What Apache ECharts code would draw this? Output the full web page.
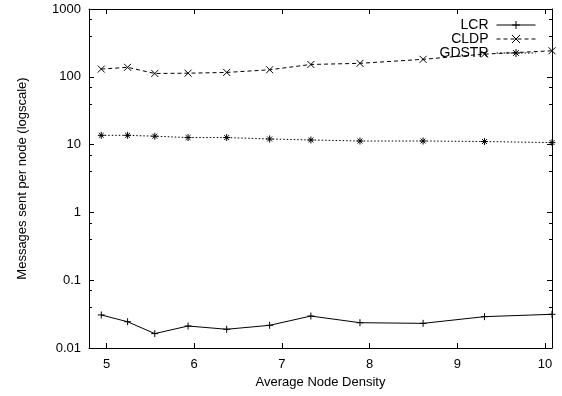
<!DOCTYPE html>
<html>
<head>
<meta charset="utf-8">
<script src="https://cdn.jsdelivr.net/npm/echarts@6/dist/echarts.min.js"></script>
<style>
  html, body { margin: 0; padding: 0; background: #fff; }
  #chart { width: 562px; height: 396px; }
</style>
</head>
<body>
<div id="chart"></div>
<script>
// x positions (average node density)
const density = [4.94, 5.24, 5.55, 5.93, 6.37, 6.86, 7.33, 7.89, 8.61, 9.31, 10.08];

// messages sent per node
const lcr   = [0.0307, 0.0244, 0.0163, 0.0211, 0.0189, 0.0216, 0.0296, 0.0236, 0.0231, 0.029, 0.0314];
const cldp  = [130, 138, 112, 113, 116, 127, 152, 158, 181, 216, 242];
const gdstr = [13.7, 13.7, 13.3, 12.7, 12.7, 12.1, 11.7, 11.3, 11.3, 11.1, 10.7];

const xTicks = [5, 6, 7, 8, 9, 10];
const yTicks = [0.01, 0.1, 1, 10, 100, 1000];

const FONT = '"Liberation Sans", Arial, sans-serif';

// stroke-only marker shapes like gnuplot
const plusSym = 'path://M0,5L10,5M5,0L5,10';
const crossSym = 'path://M1,1L9,9M9,1L1,9';
const starSym = 'path://M0,5L10,5M5,0L5,10M1.5,1.5L8.5,8.5M8.5,1.5L1.5,8.5';

const pairs = (ys) => density.map((x, i) => [x, ys[i]]);

const chart = echarts.init(document.getElementById('chart'));

const tickStyle = { show: true, inside: true, length: 5, lineStyle: { color: '#000', width: 1 } };

const mkSeries = (name, ys, symbol, type) => ({
  name: name,
  type: 'line',
  data: pairs(ys),
  symbol: symbol,
  symbolSize: 7,
  showSymbol: true,
  animation: false,
  lineStyle: { color: '#000', width: 1, type: type },
  itemStyle: { color: 'none', borderColor: '#000', borderWidth: 1 },
  emphasis: { disabled: true }
});

chart.setOption({
  animation: false,
  grid: { left: 89, right: 10, top: 9, bottom: 48 },
  legend: {
    orient: 'vertical',
    right: 21,
    top: 13,
    align: 'right',
    itemWidth: 39,
    itemHeight: 10,
    itemGap: 0,
    textStyle: { fontFamily: FONT, fontSize: 14, lineHeight: 14, color: '#000', padding: [0, 3, 0, 0] },
    lineStyle: { width: 1, color: '#000' },
    itemStyle: { color: 'none', borderColor: '#000', borderWidth: 1 },
    data: ['LCR', 'CLDP', 'GDSTR']
  },
  xAxis: [{
    type: 'value',
    min: 4.8,
    max: 10.08,
    name: 'Average Node Density',
    nameLocation: 'middle',
    nameGap: 28,
    nameTextStyle: { fontFamily: FONT, fontSize: 13, color: '#000' },
    axisLine: { show: true, onZero: false, lineStyle: { color: '#000', width: 1 } },
    axisTick: Object.assign({ customValues: xTicks }, tickStyle),
    axisLabel: { customValues: xTicks, margin: 10, fontFamily: FONT, fontSize: 13, color: '#000' },
    splitLine: { show: false }
  }, {
    type: 'value',
    position: 'top',
    min: 4.8,
    max: 10.08,
    axisLine: { show: true, onZero: false, lineStyle: { color: '#000', width: 1 } },
    axisTick: Object.assign({ customValues: xTicks }, tickStyle),
    axisLabel: { show: false },
    splitLine: { show: false }
  }],
  yAxis: [{
    type: 'log',
    logBase: 10,
    min: 0.01,
    max: 1000,
    name: 'Messages sent per node (logscale)',
    nameLocation: 'middle',
    nameGap: 60,
    nameTextStyle: { fontFamily: FONT, fontSize: 13, color: '#000' },
    axisLine: { show: true, onZero: false, lineStyle: { color: '#000', width: 1 } },
    axisTick: tickStyle,
    minorTick: { show: true, splitNumber: 3, length: 3, lineStyle: { color: '#000', width: 1 } },
    axisLabel: {
      margin: 8, fontFamily: FONT, fontSize: 13, color: '#000',
      formatter: (v) => String(yTicks.find(t => Math.abs(Math.log10(t) - Math.log10(v)) < 1e-6) ?? v)
    },
    splitLine: { show: false }
  }, {
    type: 'log',
    logBase: 10,
    min: 0.01,
    max: 1000,
    position: 'right',
    axisLine: { show: true, onZero: false, lineStyle: { color: '#000', width: 1 } },
    axisTick: tickStyle,
    minorTick: { show: true, splitNumber: 3, length: 3, lineStyle: { color: '#000', width: 1 } },
    axisLabel: { show: false },
    splitLine: { show: false }
  }],
  series: [
    mkSeries('LCR', lcr, plusSym, 'solid'),
    mkSeries('CLDP', cldp, crossSym, [4, 3]),
    mkSeries('GDSTR', gdstr, starSym, [1.5, 2])
  ]
});
</script>
</body>
</html>
